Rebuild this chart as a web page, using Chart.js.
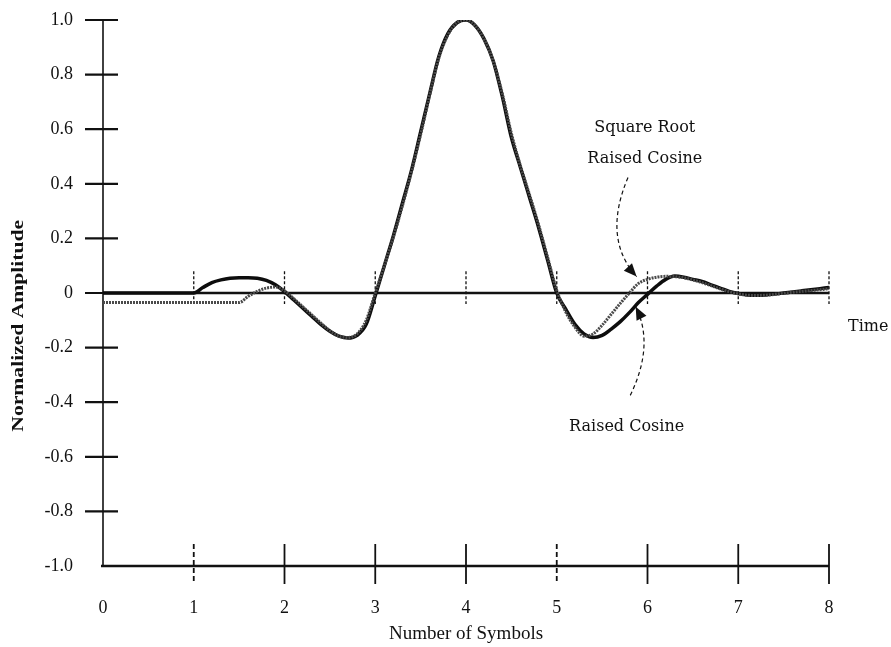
<!DOCTYPE html>
<html>
<head>
<meta charset="utf-8">
<title>Raised Cosine vs Square Root Raised Cosine</title>
<script src="https://cdn.jsdelivr.net/npm/chart.js@4.4.1/dist/chart.umd.min.js"></script>
<style>
  html, body { margin: 0; padding: 0; background: #fff; }
  #pulseChart { display: block; }
</style>
</head>
<body>
<canvas id="pulseChart" width="891" height="647"></canvas>
<script>
// ===============================================================
// DATA (0.1 symbol steps)
// ===============================================================
const symbolTimes = [
  0.0, 0.1, 0.2, 0.3, 0.4, 0.5, 0.6, 0.7, 0.8, 0.9,
  1.0, 1.1, 1.2, 1.3, 1.4, 1.5, 1.6, 1.7, 1.8, 1.9,
  2.0, 2.1, 2.2, 2.3, 2.4, 2.5, 2.6, 2.7, 2.8, 2.9,
  3.0, 3.1, 3.2, 3.3, 3.4, 3.5, 3.6, 3.7, 3.8, 3.9,
  4.0, 4.1, 4.2, 4.3, 4.4, 4.5, 4.6, 4.7, 4.8, 4.9,
  5.0, 5.1, 5.2, 5.3, 5.4, 5.5, 5.6, 5.7, 5.8, 5.9,
  6.0, 6.1, 6.2, 6.3, 6.4, 6.5, 6.6, 6.7, 6.8, 6.9,
  7.0, 7.1, 7.2, 7.3, 7.4, 7.5, 7.6, 7.7, 7.8, 7.9,
  8.0
];

const raisedCosine = [
  0, 0, 0, 0, 0, 0, 0, 0, 0, 0,
  0, 0.02, 0.038, 0.048, 0.054, 0.056, 0.056, 0.054, 0.046, 0.03,
  0.005, -0.025, -0.055, -0.085, -0.115, -0.14, -0.158, -0.165, -0.155, -0.115,
  -0.01, 0.1, 0.21, 0.33, 0.45, 0.59, 0.73, 0.865, 0.95, 0.99,
  1.0, 0.98, 0.93, 0.85, 0.72, 0.57, 0.46, 0.35, 0.24, 0.12,
  0.0, -0.06, -0.115, -0.15, -0.163, -0.155, -0.132, -0.105, -0.072, -0.035,
  -0.005, 0.025, 0.05, 0.062, 0.058, 0.05, 0.042, 0.03, 0.018, 0.006,
  -0.002, -0.007, -0.008, -0.007, -0.004, 0.0, 0.004, 0.008, 0.012, 0.016,
  0.02
];

const sqrtRaisedCosine = [
  -0.035, -0.035, -0.035, -0.035, -0.035, -0.035, -0.035, -0.035, -0.035, -0.035,
  -0.035, -0.035, -0.035, -0.035, -0.035, -0.035, -0.012, 0.006, 0.018, 0.022,
  0.008, -0.02, -0.05, -0.08, -0.11, -0.138, -0.158, -0.163, -0.15, -0.1,
  0.0, 0.1, 0.205, 0.32, 0.445, 0.58, 0.725, 0.86, 0.945, 0.99,
  1.0, 0.98, 0.93, 0.85, 0.73, 0.585, 0.465, 0.36, 0.25, 0.13,
  0.01, -0.07, -0.125, -0.158, -0.15, -0.118, -0.078, -0.038, 0.0, 0.035,
  0.05, 0.058, 0.061, 0.06, 0.056, 0.048, 0.038, 0.027, 0.015, 0.005,
  -0.003, -0.008, -0.009, -0.008, -0.005, -0.001, 0.003, 0.006, 0.009, 0.012,
  0.016
];

const amplitudeTicks = [-1.0, -0.8, -0.6, -0.4, -0.2, 0, 0.2, 0.4, 0.6, 0.8, 1.0];
const symbolTicks = [0, 1, 2, 3, 4, 5, 6, 7, 8];

document.addEventListener('DOMContentLoaded', () => {

    const serif = '"Liberation Serif", "Times New Roman", serif';
    const labelFont = '"DejaVu Serif", serif';
    const ink = '#111';

    function toPoints(values) {
        return values.map((v, i) => ({ x: symbolTimes[i], y: v }));
    }

    // ===============================================================
    // AXES, TICK CROSSES, ZERO LINE AND CALLOUTS
    // drawn by hand since the figure uses crossed tick marks
    // ===============================================================
    const figureArt = {
        id: 'figureArt',
        beforeDatasetsDraw(chart) {
            const { ctx, scales: { x, y } } = chart;
            const left = x.getPixelForValue(0);
            const right = x.getPixelForValue(8);
            const bottom = y.getPixelForValue(-1);
            const top = y.getPixelForValue(1);
            const zero = y.getPixelForValue(0);

            ctx.save();
            ctx.strokeStyle = ink;

            // y axis (thin, a bit broken in the scan)
            ctx.lineWidth = 1.6;
            ctx.beginPath(); ctx.moveTo(left, top); ctx.lineTo(left, bottom); ctx.stroke();

            // x axis at -1.0
            ctx.lineWidth = 2.4;
            ctx.beginPath(); ctx.moveTo(left - 2, bottom); ctx.lineTo(right, bottom); ctx.stroke();

            // zero reference line
            ctx.lineWidth = 2.4;
            ctx.beginPath(); ctx.moveTo(left, zero); ctx.lineTo(right, zero); ctx.stroke();

            // y tick crosses
            ctx.lineWidth = 2.2;
            amplitudeTicks.forEach(v => {
                if (v === -1) return;
                const py = y.getPixelForValue(v);
                ctx.beginPath(); ctx.moveTo(left - 18, py); ctx.lineTo(left + 15, py); ctx.stroke();
            });

            // x tick crosses
            symbolTicks.forEach(v => {
                if (v === 0) return;
                const px = x.getPixelForValue(v);
                ctx.lineWidth = 1.8;
                ctx.setLineDash(v === 1 || v === 5 ? [5, 3] : []);
                ctx.beginPath(); ctx.moveTo(px, bottom - 22); ctx.lineTo(px, bottom + 18); ctx.stroke();
            });

            // little dashed marks on the zero line
            ctx.lineWidth = 1.3;
            ctx.setLineDash([3, 2]);
            symbolTicks.forEach(v => {
                if (v === 0) return;
                const px = x.getPixelForValue(v);
                ctx.beginPath();
                ctx.moveTo(px, y.getPixelForValue(0.08));
                ctx.lineTo(px, y.getPixelForValue(-0.04));
                ctx.stroke();
            });
            ctx.restore();
        },
        afterDatasetsDraw(chart) {
            const { ctx, scales: { x, y } } = chart;
            ctx.save();
            ctx.fillStyle = ink;
            ctx.strokeStyle = ink;

            // callout text
            ctx.font = '16px ' + labelFont;
            ctx.textAlign = 'center';
            ctx.textBaseline = 'alphabetic';
            ctx.fillText('Square Root', x.getPixelForValue(5.97), y.getPixelForValue(0.59));
            ctx.fillText('Raised Cosine', x.getPixelForValue(5.97), y.getPixelForValue(0.478));
            ctx.fillText('Raised Cosine', x.getPixelForValue(5.77), y.getPixelForValue(-0.504));
            ctx.textAlign = 'left';
            ctx.fillText('Time', x.getPixelForValue(8.21), y.getPixelForValue(-0.14));

            // dashed curved arrows
            function arrow(sx, sy, cx, cy, ex, ey) {
                const p0 = [x.getPixelForValue(sx), y.getPixelForValue(sy)];
                const p1 = [x.getPixelForValue(cx), y.getPixelForValue(cy)];
                const p2 = [x.getPixelForValue(ex), y.getPixelForValue(ey)];
                ctx.lineWidth = 1.2;
                ctx.setLineDash([4, 3]);
                ctx.beginPath();
                ctx.moveTo(p0[0], p0[1]);
                ctx.quadraticCurveTo(p1[0], p1[1], p2[0], p2[1]);
                ctx.stroke();
                ctx.setLineDash([]);
                const ang = Math.atan2(p2[1] - p1[1], p2[0] - p1[0]);
                const len = 13, half = 5.5;
                ctx.beginPath();
                ctx.moveTo(p2[0], p2[1]);
                ctx.lineTo(p2[0] - len * Math.cos(ang) + half * Math.sin(ang),
                           p2[1] - len * Math.sin(ang) - half * Math.cos(ang));
                ctx.lineTo(p2[0] - len * Math.cos(ang) - half * Math.sin(ang),
                           p2[1] - len * Math.sin(ang) + half * Math.cos(ang));
                ctx.closePath();
                ctx.fill();
            }
            arrow(5.785, 0.423, 5.5, 0.2, 5.88, 0.06);
            arrow(5.81, -0.375, 6.08, -0.19, 5.87, -0.05);

            // y axis title, stretched like the scan
            ctx.save();
            ctx.font = 'bold 16px ' + serif;
            ctx.textAlign = 'center';
            ctx.textBaseline = 'middle';
            ctx.translate(19, y.getPixelForValue(-0.12));
            ctx.rotate(-Math.PI / 2);
            ctx.scale(1.35, 1);
            ctx.fillText('Normalized Amplitude', 0, 0);
            ctx.restore();

            ctx.restore();
        }
    };

    // invisible tick marks only push the labels away from the axis
    const hiddenGrid = length => ({
        display: true,
        color: 'rgba(0,0,0,0)',
        drawOnChartArea: false,
        drawTicks: true,
        tickLength: length
    });

    new Chart(document.getElementById('pulseChart'), {
        type: 'line',
        data: {
            datasets: [
                {
                    label: 'Raised Cosine',
                    data: toPoints(raisedCosine),
                    borderColor: '#0d0d0d',
                    borderWidth: 3.5,
                    pointRadius: 0,
                    cubicInterpolationMode: 'monotone',
                    order: 2
                },
                {
                    label: 'Square Root Raised Cosine',
                    data: toPoints(sqrtRaisedCosine),
                    borderColor: '#4a4a4a',
                    borderWidth: 3,
                    borderDash: [2, 1],
                    pointRadius: 0,
                    cubicInterpolationMode: 'monotone',
                    order: 1
                }
            ]
        },
        options: {
            responsive: false,
            devicePixelRatio: 1,
            animation: false,
            layout: { autoPadding: false, padding: { top: 20, right: 62, left: 0, bottom: 0 } },
            plugins: {
                legend: { display: false },
                tooltip: { enabled: false }
            },
            scales: {
                x: {
                    type: 'linear',
                    min: 0,
                    max: 8,
                    afterFit: scale => { scale.height = 81; },
                    afterBuildTicks: scale => { scale.ticks = symbolTicks.map(v => ({ value: v })); },
                    grid: hiddenGrid(31),
                    border: { display: false },
                    ticks: {
                        color: ink,
                        padding: 0,
                        maxRotation: 0,
                        font: { family: serif, size: 18 },
                        callback: v => String(v)
                    },
                    title: {
                        display: true,
                        text: 'Number of Symbols',
                        color: ink,
                        font: { family: serif, size: 19 },
                        padding: { top: 0, bottom: 2 }
                    }
                },
                y: {
                    type: 'linear',
                    min: -1,
                    max: 1,
                    afterFit: scale => { scale.width = 103; },
                    afterBuildTicks: scale => { scale.ticks = amplitudeTicks.map(v => ({ value: v })); },
                    grid: hiddenGrid(30),
                    border: { display: false },
                    ticks: {
                        color: ink,
                        padding: 0,
                        font: { family: serif, size: 18 },
                        callback: v => (v === 0 ? '0' : v.toFixed(1))
                    }
                }
            }
        },
        plugins: [figureArt]
    });
});
</script>
</body>
</html>
